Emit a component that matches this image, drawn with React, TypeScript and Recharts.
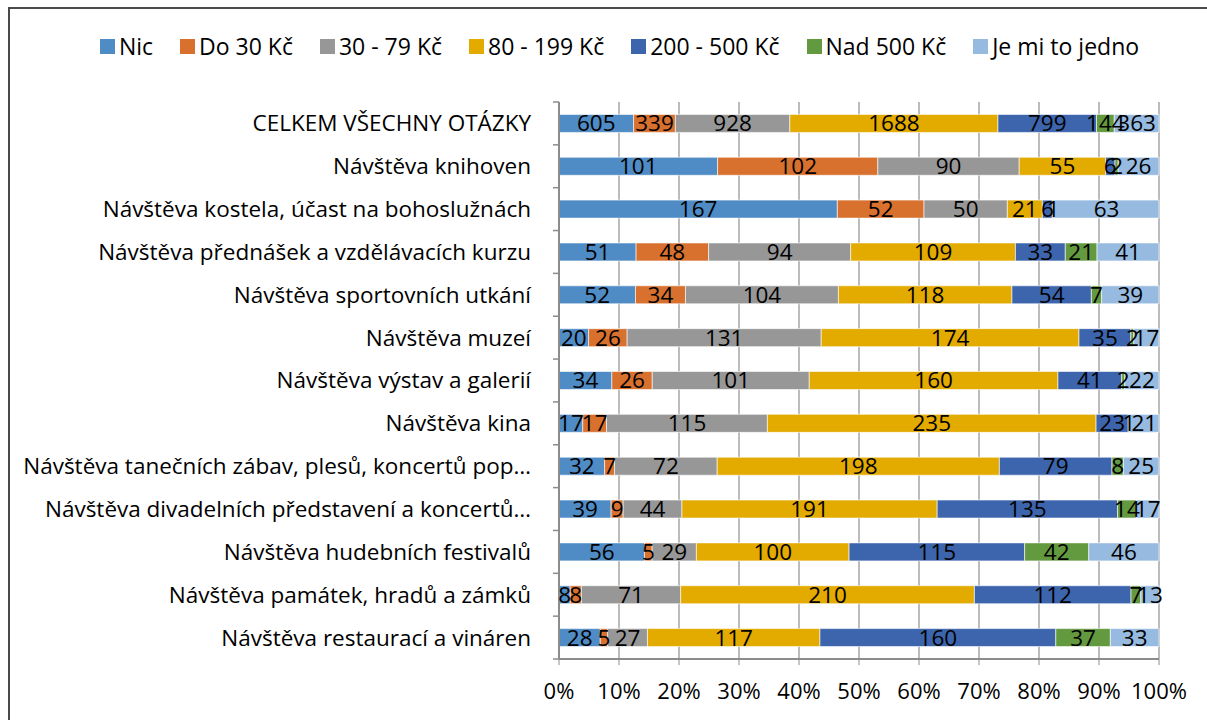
import React from "react";
import {
  BarChart,
  Bar,
  XAxis,
  YAxis,
  CartesianGrid,
  Legend,
  LabelList,
} from "recharts";

const categories = [
  "CELKEM VŠECHNY OTÁZKY",
  "Návštěva knihoven",
  "Návštěva kostela, účast na bohoslužnách",
  "Návštěva přednášek a vzdělávacích kurzu",
  "Návštěva sportovních utkání",
  "Návštěva muzeí",
  "Návštěva výstav a galerií",
  "Návštěva kina",
  "Návštěva tanečních zábav, plesů, koncertů pop…",
  "Návštěva divadelních představení a koncertů…",
  "Návštěva hudebních festivalů",
  "Návštěva památek, hradů a zámků",
  "Návštěva restaurací a vináren",
];

const seriesNames = [
  "Nic",
  "Do 30 Kč",
  "30 - 79 Kč",
  "80 - 199 Kč",
  "200 - 500 Kč",
  "Nad 500 Kč",
  "Je mi to jedno",
];

const seriesColors = [
  "#4F8BC4",
  "#D8702E",
  "#979797",
  "#E3AA00",
  "#3D65AD",
  "#649A3F",
  "#96BAE0",
];

const nic = [605, 101, 167, 51, 52, 20, 34, 17, 32, 39, 56, 8, 28];
const do30 = [339, 102, 52, 48, 34, 26, 26, 17, 7, 9, 5, 8, 5];
const od30do79 = [928, 90, 50, 94, 104, 131, 101, 115, 72, 44, 29, 71, 27];
const od80do199 = [1688, 55, 21, 109, 118, 174, 160, 235, 198, 191, 100, 210, 117];
const od200do500 = [799, 6, 6, 33, 54, 35, 41, 23, 79, 135, 115, 112, 160];
const nad500 = [144, 2, 1, 21, 7, 2, 2, 1, 8, 14, 42, 7, 37];
const jedno = [363, 26, 63, 41, 39, 17, 22, 21, 25, 17, 46, 13, 33];

const xTicks = [0, 0.1, 0.2, 0.3, 0.4, 0.5, 0.6, 0.7, 0.8, 0.9, 1];

const seriesValues = [nic, do30, od30do79, od80do199, od200do500, nad500, jedno];
const keys = ["s0", "s1", "s2", "s3", "s4", "s5", "s6"];

const data = categories.map((name, i) => {
  const row: Record<string, string | number> = { name };
  keys.forEach((k, j) => {
    row[k] = seriesValues[j][i];
  });
  return row;
});

const FONT = "'Open Sans', 'Noto Sans', sans-serif";
const Y_AXIS_WIDTH = 551;
const AXIS_GRAY = "#8c8c8c";

// popisek kategorie + značka na hranici pásma (jako v Excelu)
function CategoryTick(props: any) {
  const { x, y, payload, index } = props;
  const half = payload.offset || 0;
  const last = index === categories.length - 1;
  return (
    <g>
      <text
        x={x}
        y={y}
        dy="0.355em"
        textAnchor="end"
        fill="#000"
        fontSize={22.5}
        fontFamily={FONT}
      >
        {payload.value}
      </text>
      <line
        x1={Y_AXIS_WIDTH - 6}
        x2={Y_AXIS_WIDTH}
        y1={y - half}
        y2={y - half}
        stroke={AXIS_GRAY}
        strokeWidth={1.5}
      />
      {last && (
        <line
          x1={Y_AXIS_WIDTH - 6}
          x2={Y_AXIS_WIDTH}
          y1={y + half}
          y2={y + half}
          stroke={AXIS_GRAY}
          strokeWidth={1.5}
        />
      )}
    </g>
  );
}

function LegendContent() {
  return (
    <div
      style={{
        display: "flex",
        justifyContent: "center",
        gap: 27,
        fontFamily: FONT,
        fontSize: 23,
        color: "#000",
        lineHeight: "26px",
        paddingLeft: 24,
      }}
    >
      {seriesNames.map((n, i) => (
        <div key={n} style={{ display: "flex", alignItems: "center" }}>
          <span
            style={{
              display: "inline-block",
              width: 15,
              height: 15,
              background: seriesColors[i],
              marginRight: 4,
            }}
          />
          {n}
        </div>
      ))}
    </div>
  );
}

export default function App() {
  return (
    <div
      style={{
        position: "absolute",
        left: 0,
        top: 0,
        width: 1207,
        height: 720,
        overflow: "hidden",
        background: "#fff",
      }}
    >
      <div
        style={{
          position: "absolute",
          left: 8,
          top: 7,
          width: 1210,
          height: 720,
          borderTop: "2px solid #4a4a4a",
          borderLeft: "2px solid #4a4a4a",
        }}
      />
      <div style={{ position: "absolute", left: 8, top: 8 }}>
        <BarChart
          width={1199}
          height={712}
          data={data}
          layout="vertical"
          stackOffset="expand"
          barCategoryGap="29%"
          margin={{ top: 68, right: 48, bottom: 21, left: 0 }}
        >
          <Legend
            verticalAlign="top"
            content={<LegendContent />}
            wrapperStyle={{ top: 25, left: 0, width: 1199 }}
          />
          <CartesianGrid
            horizontal={false}
            stroke="#a6a6a6"
            strokeWidth={1.5}
          />
          <XAxis
            type="number"
            domain={[0, 1]}
            ticks={xTicks}
            tickFormatter={(v: number) => `${Math.round(v * 100)}%`}
            axisLine={{ stroke: AXIS_GRAY, strokeWidth: 2 }}
            tickLine={{ stroke: AXIS_GRAY }}
            tickSize={6}
            tickMargin={18}
            height={40}
            tick={{ fontSize: 22, fill: "#000", fontFamily: FONT }}
            interval={0}
          />
          <YAxis
            type="category"
            dataKey="name"
            width={Y_AXIS_WIDTH}
            axisLine={{ stroke: AXIS_GRAY, strokeWidth: 2 }}
            tickLine={false}
            tickMargin={22}
            interval={0}
            tick={<CategoryTick />}
          />
          {keys.map((k, i) => (
            <Bar
              key={k}
              dataKey={k}
              name={seriesNames[i]}
              stackId="a"
              fill={seriesColors[i]}
              stroke="#ffffff"
              strokeWidth={0.6}
              isAnimationActive={false}
            >
              <LabelList
                dataKey={k}
                position="center"
                fill="#000"
                fontSize={22.5}
                fontFamily={FONT}
              />
            </Bar>
          ))}
        </BarChart>
      </div>
    </div>
  );
}
